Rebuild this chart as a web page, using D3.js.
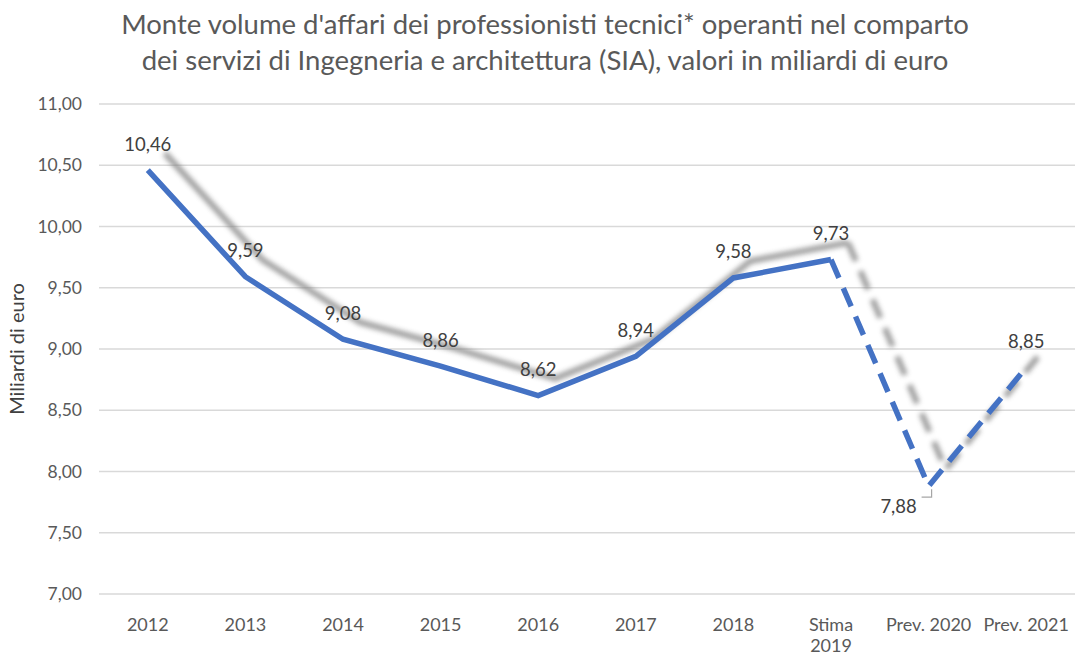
<!DOCTYPE html>
<html>
<head>
<meta charset="utf-8">
<script src="https://cdn.jsdelivr.net/npm/d3@7"></script>
<style>
  body { margin: 0; background: #fff; }
  text { font-family: Lato, "Open Sans", sans-serif; }
</style>
</head>
<body>
<div id="root"></div>
<script>
const categories = ["2012", "2013", "2014", "2015", "2016", "2017", "2018", "Stima 2019", "Prev. 2020", "Prev. 2021"];
const values = [10.46, 9.59, 9.08, 8.86, 8.62, 8.94, 9.58, 9.73, 7.88, 8.85];
const yTicks = [7, 7.5, 8, 8.5, 9, 9.5, 10, 10.5, 11];
const titleLines = [
  "Monte volume d'affari dei professionisti tecnici* operanti nel comparto",
  "dei servizi di Ingegneria e architettura (SIA), valori in miliardi di euro"
];
const solidUntil = 7; // index of "Stima 2019"

const width = 1079, height = 657;
const margin = { top: 104, right: 4, bottom: 63, left: 99 };
const fmt = (v) => d3.format(".2f")(v).replace(".", ",");

const svg = d3.create("svg").attr("width", width).attr("height", height);

const x = d3.scaleBand().domain(categories).range([margin.left, width - margin.right]);
const y = d3.scaleLinear().domain([7, 11]).range([height - margin.bottom, margin.top]);
const cx = (i) => x(categories[i]) + x.bandwidth() / 2;

const defs = svg.append("defs");
defs.append("filter").attr("id", "blur")
  .attr("x", "-20%").attr("y", "-20%").attr("width", "140%").attr("height", "140%")
  .append("feGaussianBlur").attr("stdDeviation", 2.8);

// title
svg.append("g").selectAll("text").data(titleLines).join("text")
  .attr("x", 545).attr("y", (d, i) => 34 + i * 36)
  .attr("text-anchor", "middle").attr("font-size", 27.5).attr("fill", "#595959")
  .text((d) => d);

// grid
svg.append("g").selectAll("line").data(yTicks).join("line")
  .attr("x1", margin.left).attr("x2", width - margin.right)
  .attr("y1", (d) => y(d)).attr("y2", (d) => y(d))
  .attr("stroke", "#d9d9d9").attr("stroke-width", 1.3);

// y axis labels
const yAxis = svg.append("g").attr("transform", `translate(${margin.left},0)`)
  .call(d3.axisLeft(y).tickValues(yTicks).tickFormat(fmt).tickSize(0).tickPadding(17));
yAxis.select(".domain").remove();
yAxis.selectAll("text").attr("font-size", 17.5).attr("fill", "#595959")
  .attr("font-family", "Lato, sans-serif");

// x axis labels
const xAxis = svg.append("g").attr("transform", `translate(0,${height - margin.bottom})`)
  .call(d3.axisBottom(x).tickSize(0).tickPadding(0).tickFormat(""));
xAxis.select(".domain").remove();
xAxis.selectAll(".tick").each(function (d) {
  const t = d3.select(this).append("text")
    .attr("fill", "#595959").attr("font-size", 18)
    .attr("text-anchor", "middle").attr("font-family", "Lato, sans-serif");
  const parts = d.startsWith("Stima") ? d.split(" ") : [d];
  parts.forEach((p, k) => t.append("tspan").attr("x", 0).attr("y", 37 + k * 21).text(p));
});

svg.append("text")
  .attr("transform", `translate(24,${(y(7) + y(11)) / 2}) rotate(-90)`)
  .attr("text-anchor", "middle").attr("font-size", 20).attr("fill", "#404040")
  .text("Miliardi di euro");

const pts = values.map((v, i) => [cx(i), y(v)]);
const line = d3.line();
const solidPts = pts.slice(0, solidUntil + 1);
const dashPts = pts.slice(solidUntil);

// shadow
const shadow = svg.append("g").attr("transform", "translate(17,-17)")
  .attr("filter", "url(#blur)").attr("opacity", 0.75);
shadow.append("path").attr("d", line(solidPts)).attr("fill", "none")
  .attr("stroke", "#7f7f7f").attr("stroke-width", 6).attr("stroke-linejoin", "miter");
shadow.append("path").attr("d", line(dashPts)).attr("fill", "none")
  .attr("stroke", "#7f7f7f").attr("stroke-width", 6).attr("stroke-dasharray", "20 11");

// series
svg.append("path").attr("d", line(solidPts)).attr("fill", "none")
  .attr("stroke", "#4472c4").attr("stroke-width", 5.5).attr("stroke-linejoin", "miter");
svg.append("path").attr("d", line(dashPts)).attr("fill", "none")
  .attr("stroke", "#4472c4").attr("stroke-width", 5.5).attr("stroke-dasharray", "20 11");

// data labels
const labelPos = (i) => i === 8 ? [cx(i) - 30, y(values[i]) + 20] : [cx(i), y(values[i]) - 26];
svg.append("g").selectAll("text").data(values).join("text")
  .attr("x", (d, i) => labelPos(i)[0]).attr("y", (d, i) => labelPos(i)[1] + 6.5)
  .attr("text-anchor", "middle").attr("font-size", 18.5).attr("fill", "#404040")
  .text(fmt);

// leader line for 7,88
const li = 8;
svg.append("path")
  .attr("d", d3.line()([[cx(li) - 7, y(values[li]) + 11], [cx(li) + 3, y(values[li]) + 11], [cx(li) + 3, y(values[li]) + 3]]))
  .attr("fill", "none").attr("stroke", "#a6a6a6").attr("stroke-width", 1.2);

d3.select("#root").append(() => svg.node());
</script>
</body>
</html>
